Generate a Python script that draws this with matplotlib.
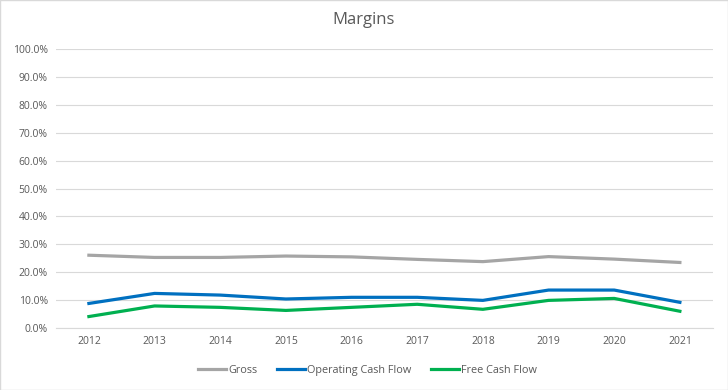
import matplotlib
matplotlib.use("Agg")
from matplotlib import pyplot as plt
from matplotlib.patches import Rectangle
from matplotlib.ticker import PercentFormatter

years = ["2012", "2013", "2014", "2015", "2016", "2017", "2018", "2019", "2020", "2021"]
gross = [26.1, 25.3, 25.3, 25.8, 25.5, 24.6, 23.8, 25.6, 24.7, 23.5]
operating_cf = [8.8, 12.4, 11.8, 10.4, 11.0, 11.0, 9.9, 13.6, 13.6, 9.2]
free_cf = [4.1, 7.9, 7.4, 6.3, 7.4, 8.5, 6.7, 9.9, 10.6, 6.0]

text_color = "#595959"
plt.rcParams["font.family"] = ["Open Sans", "DejaVu Sans"]

fig = plt.figure(figsize=(7.28, 3.9), dpi=100)
ax = fig.add_axes([0.077, 0.159, 0.902, 0.715])

x = range(len(years))
ax.plot(x, gross, color="#A5A5A5", linewidth=2.3, label="Gross")
ax.plot(x, operating_cf, color="#0070C0", linewidth=2.3, label="Operating Cash Flow")
ax.plot(x, free_cf, color="#00B050", linewidth=2.3, label="Free Cash Flow")

ax.set_xlim(-0.5, len(years) - 0.5)
ax.set_ylim(0, 100)
ax.set_yticks(range(0, 101, 10))
ax.yaxis.set_major_formatter(PercentFormatter(decimals=1))
ax.set_xticks(list(x))
ax.set_xticklabels(years)
ax.grid(axis="y", color="#D9D9D9", linewidth=0.8)
ax.set_axisbelow(True)
for side in ["top", "right", "left"]:
    ax.spines[side].set_visible(False)
ax.spines["bottom"].set_color("#D9D9D9")
ax.tick_params(length=0, labelsize=7.5, colors=text_color, pad=6)

fig.suptitle("Margins", y=0.97, fontsize=12, color=text_color)
fig.legend(loc="center", bbox_to_anchor=(0.505, 0.05), ncol=3, frameon=False,
           fontsize=7.8, labelcolor=text_color, handlelength=2.6, handletextpad=0.2,
           columnspacing=1.8)

fig.patches.append(Rectangle((0, 0), 1, 1, transform=fig.transFigure, fill=False,
                             edgecolor="#D9D9D9", linewidth=1))

fig.savefig("out.png", dpi=100)
